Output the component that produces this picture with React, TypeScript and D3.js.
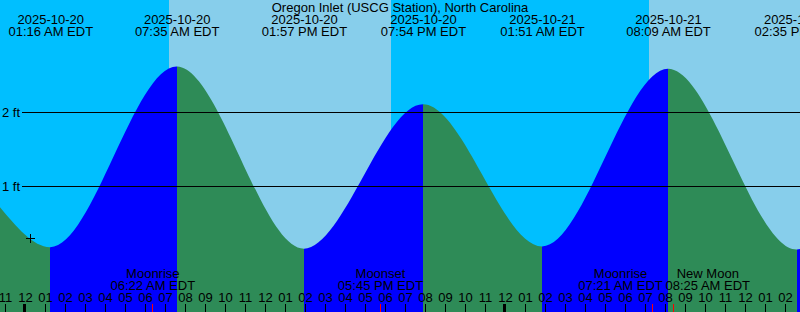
import React from "react";
import * as d3 from "d3";

const W = 800;
const H = 312;
const FONT = "'Liberation Sans', Arial, Helvetica, sans-serif";
const FONT_SIZE = 13;

const TITLE = "Oregon Inlet (USCG Station), North Carolina";
const windowStart = "2025-10-19T22:45";
const windowEnd = "2025-10-21T14:45";

// Tide extremes (EDT wall-clock time) and heights in feet
const tideTimes = [
  "2025-10-20T01:16",
  "2025-10-20T07:35",
  "2025-10-20T13:57",
  "2025-10-20T19:54",
  "2025-10-21T01:51",
  "2025-10-21T08:09",
  "2025-10-21T14:35",
];
const tideHeights = [0.18, 2.62, 0.16, 2.11, 0.19, 2.59, 0.15];
const tideKinds = ["low", "high", "low", "high", "low", "high", "low"];

// Heights read at the left and right edges of the window
const edgeTimes = ["2025-10-19T22:45", "2025-10-21T14:45"];
const edgeHeights = [0.72, 0.155];

// Sun events -> sky bands
const sunTimes = ["2025-10-20T07:12", "2025-10-20T18:18", "2025-10-21T07:12"];

// Moon events
const moonTimes = ["2025-10-20T06:22", "2025-10-20T17:45", "2025-10-21T07:21", "2025-10-21T08:25"];
const moonLabels = ["Moonrise", "Moonset", "Moonrise", "New Moon"];

// Height grid
const gridLevels = [1, 2];
const gridLabels = ["1 ft", "2 ft"];

// current-time marker
const nowTime = "2025-10-20T00:15";
const nowHeight = 0.3;

const COLORS = {
  night: "#00BFFF",
  day: "#87CEEB",
  rising: "#0000FF",
  falling: "#2E8B57",
};

const parse = d3.utcParse("%Y-%m-%dT%H:%M");
const fmtDate = d3.utcFormat("%Y-%m-%d");
const fmtTime = d3.utcFormat("%I:%M %p EDT");
const fmtHour = d3.utcFormat("%I");

let measureCtx: CanvasRenderingContext2D | null = null;
function textWidth(s: string): number {
  if (!measureCtx && typeof document !== "undefined") {
    measureCtx = document.createElement("canvas").getContext("2d");
  }
  if (!measureCtx) return s.length * FONT_SIZE * 0.55;
  measureCtx.font = `${FONT_SIZE}px ${FONT}`;
  return measureCtx.measureText(s).width;
}

export default function App() {
  const t0 = parse(windowStart)!;
  const t1 = parse(windowEnd)!;
  const x = d3.scaleUtc().domain([t0, t1]).range([0, W]);
  const y = d3.scaleLinear().domain([0, 3]).range([260.5, 260.5 - 3 * 74]);

  type P = { t: Date; h: number };
  const pts: P[] = [
    { t: parse(edgeTimes[0])!, h: edgeHeights[0] },
    ...tideTimes.map((s, i) => ({ t: parse(s)!, h: tideHeights[i] })),
    { t: parse(edgeTimes[1])!, h: edgeHeights[1] },
  ];

  const area = d3
    .area<P>()
    .x((d) => x(d.t))
    .y0(H)
    .y1((d) => y(d.h))
    .curve(d3.curveMonotoneX);
  const areaPath = area(pts) || "";

  // tide colour segments
  const bounds = [t0, ...tideTimes.map((s) => parse(s)!), t1];
  const segs = bounds.slice(0, -1).map((b, i) => {
    const endKind =
      i < tideKinds.length ? tideKinds[i] : tideKinds[tideKinds.length - 1] === "low" ? "high" : "low";
    return {
      x0: Math.round(x(b)),
      x1: Math.round(x(bounds[i + 1])),
      color: endKind === "high" ? COLORS.rising : COLORS.falling,
    };
  });

  // sky bands
  const sunB = [t0, ...sunTimes.map((s) => parse(s)!), t1];
  const sky = sunB.slice(0, -1).map((b, i) => ({
    x0: Math.round(x(b)),
    x1: Math.round(x(sunB[i + 1])),
    color: i % 2 === 0 ? COLORS.night : COLORS.day,
  }));

  // moon labels with collision avoidance
  const moon = moonTimes.map((s, i) => {
    const t = parse(s)!;
    const ex = x(t) + 0.5;
    const l2 = fmtTime(t);
    const w = Math.max(textWidth(moonLabels[i]), textWidth(l2));
    return { t, ex, cx: ex, w, l1: moonLabels[i], l2 };
  });
  for (let i = 1; i < moon.length; i++) {
    const a = moon[i - 1];
    const b = moon[i];
    if (a.cx + a.w / 2 + 2 > b.cx - b.w / 2) {
      const mid = (a.ex + b.ex) / 2;
      a.cx = mid - a.w / 2;
      b.cx = mid + 2 + b.w / 2;
    }
  }

  const hours = d3.utcHour.range(t0, t1);
  const nt = parse(nowTime)!;
  const nx = Math.round(x(nt));
  const ny = Math.round(y(nowHeight));

  return (
    <svg
      width={W}
      height={H}
      viewBox={`0 0 ${W} ${H}`}
      style={{ position: "absolute", left: 0, top: 0, display: "block" }}
      fontFamily={FONT}
      fontSize={FONT_SIZE}
    >
      <defs>
        {segs.map((s, i) => (
          <clipPath id={`seg${i}`} key={i}>
            <rect x={s.x0} y={0} width={Math.max(0, s.x1 - s.x0)} height={H} />
          </clipPath>
        ))}
      </defs>
      {sky.map((s, i) => (
        <rect key={i} x={s.x0} y={0} width={s.x1 - s.x0} height={H} fill={s.color} />
      ))}
      {segs.map((s, i) => (
        <path key={i} d={areaPath} fill={s.color} clipPath={`url(#seg${i})`} />
      ))}
      {gridLevels.map((v, i) => (
        <g key={v}>
          <line
            x1={22}
            x2={W}
            y1={Math.floor(y(v)) + 0.5}
            y2={Math.floor(y(v)) + 0.5}
            stroke="#000"
            strokeWidth={1}
          />
          <text x={20} y={Math.floor(y(v)) + 4.5} textAnchor="end" fill="#000">
            {gridLabels[i]}
          </text>
        </g>
      ))}
      <text x={W / 2} y={12} textAnchor="middle" fill="#000">
        {TITLE}
      </text>
      {tideTimes.map((s) => {
        const t = parse(s)!;
        const cx = x(t) + 0.5;
        return (
          <g key={s}>
            <text x={cx} y={24} textAnchor="middle" fill="#000">
              {fmtDate(t)}
            </text>
            <text x={cx} y={36} textAnchor="middle" fill="#000">
              {fmtTime(t)}
            </text>
          </g>
        );
      })}
      {moon.map((m) => (
        <g key={+m.t}>
          <text x={m.cx} y={277.5} textAnchor="middle" fill="#000">
            {m.l1}
          </text>
          <text x={m.cx} y={289.5} textAnchor="middle" fill="#000">
            {m.l2}
          </text>
        </g>
      ))}
      {hours.map((h) => {
        const hx = Math.round(x(h));
        const midnight = h.getUTCHours() === 0;
        return (
          <g key={+h}>
            <text x={hx + 0.5} y={301.5} textAnchor="middle" fill="#000">
              {fmtHour(h)}
            </text>
            <rect x={midnight ? hx - 2 : hx} y={304} width={midnight ? 3 : 1} height={8} fill="#000" />
          </g>
        );
      })}
      {moon.map((m) => {
        const mx = Math.round(x(m.t));
        return <rect key={"m" + +m.t} x={mx} y={304} width={1} height={8} fill="#FF0000" />;
      })}
      <g stroke="#000" strokeWidth={1}>
        <line x1={nx - 4} x2={nx + 5} y1={ny + 0.5} y2={ny + 0.5} />
        <line x1={nx + 0.5} x2={nx + 0.5} y1={ny - 4} y2={ny + 5} />
      </g>
    </svg>
  );
}
